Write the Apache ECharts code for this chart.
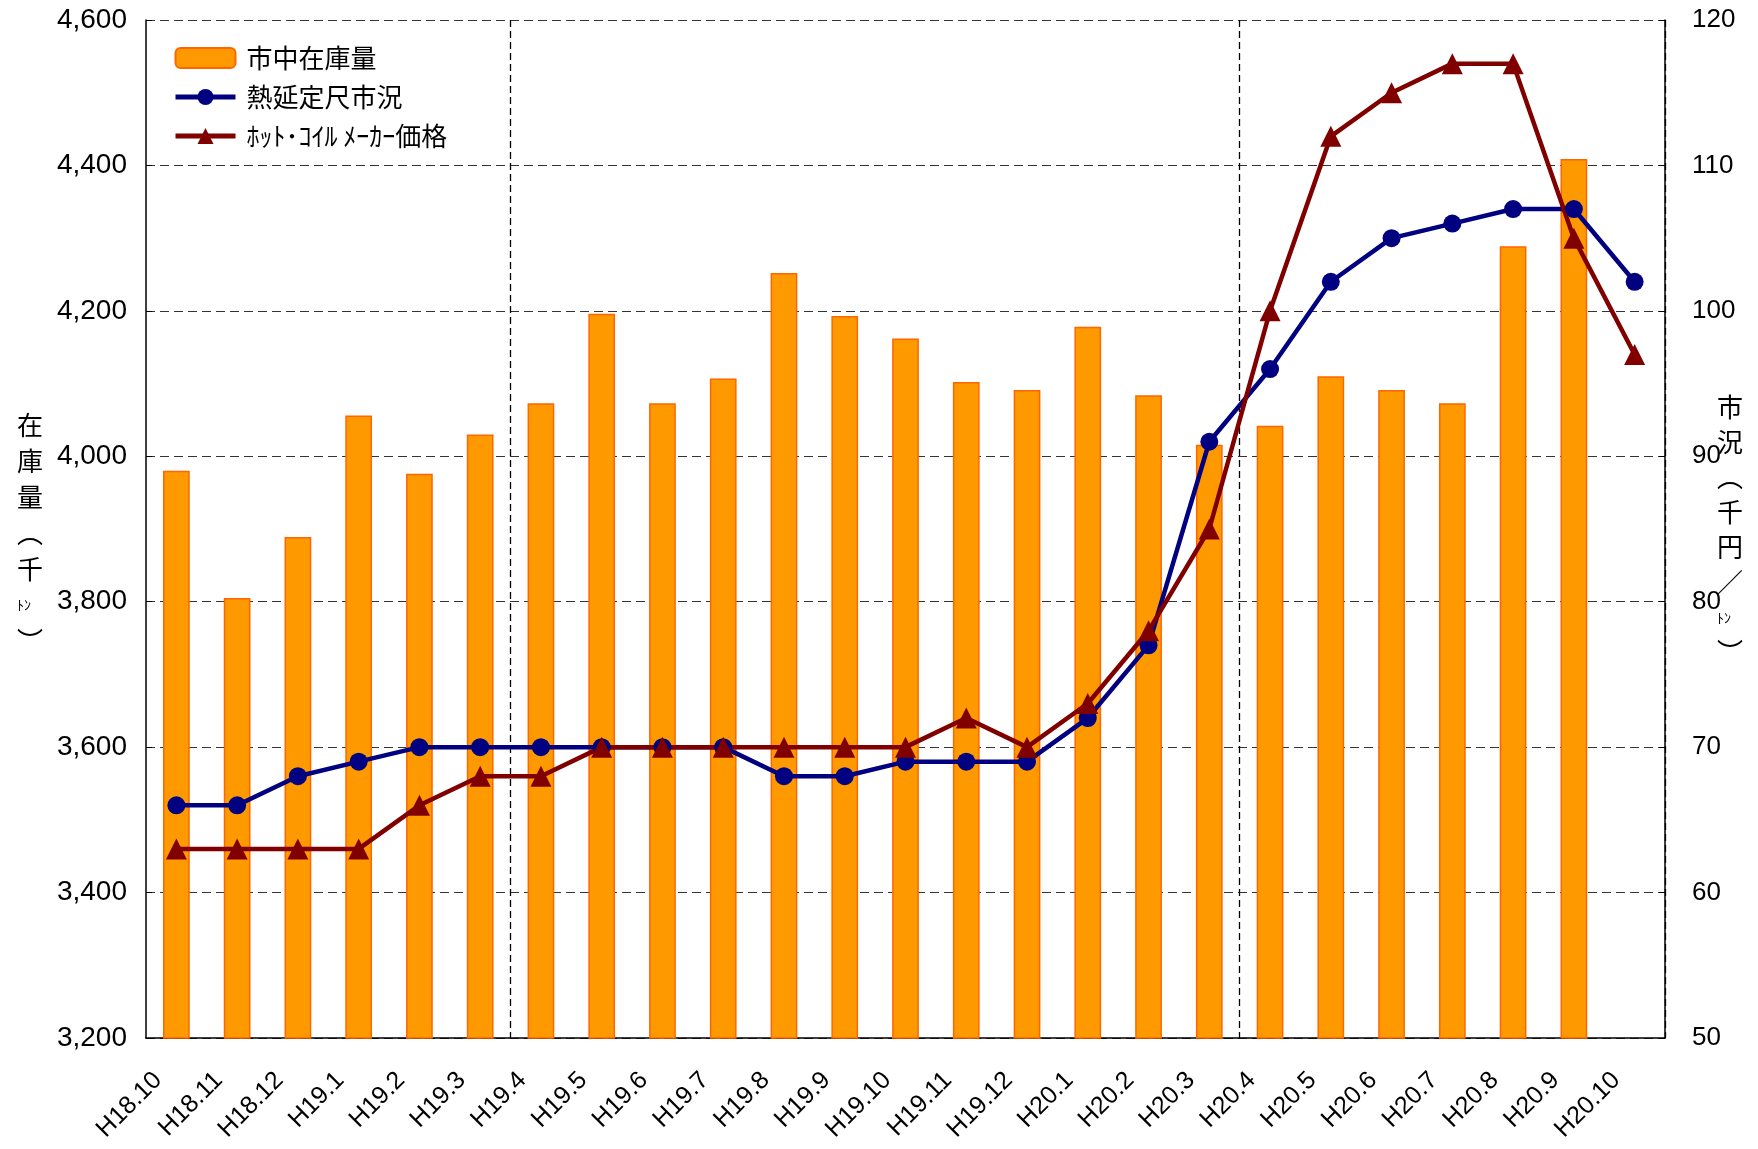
<!DOCTYPE html>
<html><head><meta charset="utf-8">
<script src="https://cdn.jsdelivr.net/npm/echarts@6/dist/echarts.min.js"></script>
<style>html,body{margin:0;padding:0;background:#fff}#c{width:1758px;height:1149px}</style>
</head><body><div id="c"></div>
<script>
const categories = ['H18.10','H18.11','H18.12','H19.1','H19.2','H19.3','H19.4','H19.5','H19.6','H19.7','H19.8','H19.9','H19.10','H19.11','H19.12','H20.1','H20.2','H20.3','H20.4','H20.5','H20.6','H20.7','H20.8','H20.9','H20.10'];
const stock = [3980,3805,3889,4056,3976,4030,4073,4196,4073,4107,4252,4193,4162,4102,4091,4178,4084,4016,4042,4110,4091,4073,4289,4409,null];
const market = [66,66,68,69,70,70,70,70,70,70,68,68,69,69,69,72,77,91,96,102,105,106,107,107,102];
const makerPrice = [63,63,63,63,66,68,68,70,70,70,70,70,70,72,70,73,78,85,100,112,115,117,117,105,97];
const seriesNames = ['市中在庫量','熱延定尺市況','ﾎｯﾄ･ｺｲﾙ ﾒｰｶｰ価格'];
const dividerIdx = [6,18];

const FF = "'Liberation Sans','Noto Sans CJK JP',sans-serif";
const JP = "'Noto Sans CJK JP',sans-serif";
const chart = echarts.init(document.getElementById('c'));
chart.setOption({
  animation:false,
  backgroundColor:'#fff',
  textStyle:{fontFamily:FF,color:'#000'},
  grid:{left:146,right:93,top:20,bottom:111,containLabel:false},
  legend:{
    orient:'vertical',left:168,top:40,itemWidth:60,itemHeight:20,itemGap:13,
    textStyle:{fontSize:26,fontFamily:JP,color:'#000',padding:[0,0,0,6]},
    data:[
      {name:seriesNames[0]},
      {name:seriesNames[1],lineStyle:{width:5,color:'#000080'},itemStyle:{color:'#000080'}},
      {name:seriesNames[2],lineStyle:{width:5,color:'#800000'},itemStyle:{color:'#800000'}}
    ]
  },
  xAxis:{
    type:'category',data:categories,boundaryGap:true,
    axisLine:{lineStyle:{color:'#000',width:1.5}},
    axisTick:{inside:true,length:6,interval:0,lineStyle:{color:'#000'}},
    axisLabel:{interval:0,rotate:45,fontSize:25,margin:20,padding:[0,26,0,0],color:'#000',fontFamily:FF},
    splitLine:{show:true,interval:function(i){return dividerIdx.indexOf(i)>=0;},lineStyle:{color:'#000',type:[7,4],width:1.3}}
  },
  yAxis:[{
    type:'value',min:3200,max:4600,interval:200,
    axisLine:{show:true,lineStyle:{color:'#000',width:1.5}},
    axisTick:{show:true,inside:true,length:6,lineStyle:{color:'#000'}},
    axisLabel:{fontSize:28,margin:19,color:'#000',fontFamily:FF,formatter:v=>v.toLocaleString('en-US')},
    splitLine:{show:true,lineStyle:{color:'#333',type:[9,5],width:1}}
  },{
    type:'value',min:50,max:120,interval:10,position:'right',
    axisLine:{show:true,lineStyle:{color:'#000',width:1.5}},
    axisTick:{show:true,inside:true,length:6,lineStyle:{color:'#000'}},
    axisLabel:{fontSize:26,margin:27,color:'#000',fontFamily:FF},
    splitLine:{show:false}
  }],
  series:[{
    name:seriesNames[0],type:'bar',data:stock,barWidth:'44%',yAxisIndex:0,
    itemStyle:{color:'#FF9900',borderColor:'#FF6600',borderWidth:1.5}
  },{
    name:seriesNames[1],type:'line',data:market,yAxisIndex:1,
    symbol:'circle',symbolSize:18,
    lineStyle:{color:'#000080',width:4.5},itemStyle:{color:'#000080'}
  },{
    name:seriesNames[2],type:'line',data:makerPrice,yAxisIndex:1,
    symbol:'triangle',symbolSize:21,
    lineStyle:{color:'#800000',width:4.5},itemStyle:{color:'#800000'}
  }],
  graphic:[{
    type:'text',left:17,top:407,
    style:{text:'在\n庫\n量\n︵\n千\n{s|ﾄﾝ}\n︶',font:"26px 'Noto Sans CJK JP'",fill:'#000',lineHeight:36,align:'center',
      rich:{s:{fontSize:14,lineHeight:36,fontFamily:'Noto Sans CJK JP'}}}
  },{
    type:'text',left:1717,top:390,
    style:{text:'市\n況\n︵\n千\n円\n／\n{s|ﾄﾝ}\n︶',font:"26px 'Noto Sans CJK JP'",fill:'#000',lineHeight:35,align:'center',
      rich:{s:{fontSize:14,lineHeight:35,fontFamily:'Noto Sans CJK JP'}}}
  }]
});
</script></body></html>
